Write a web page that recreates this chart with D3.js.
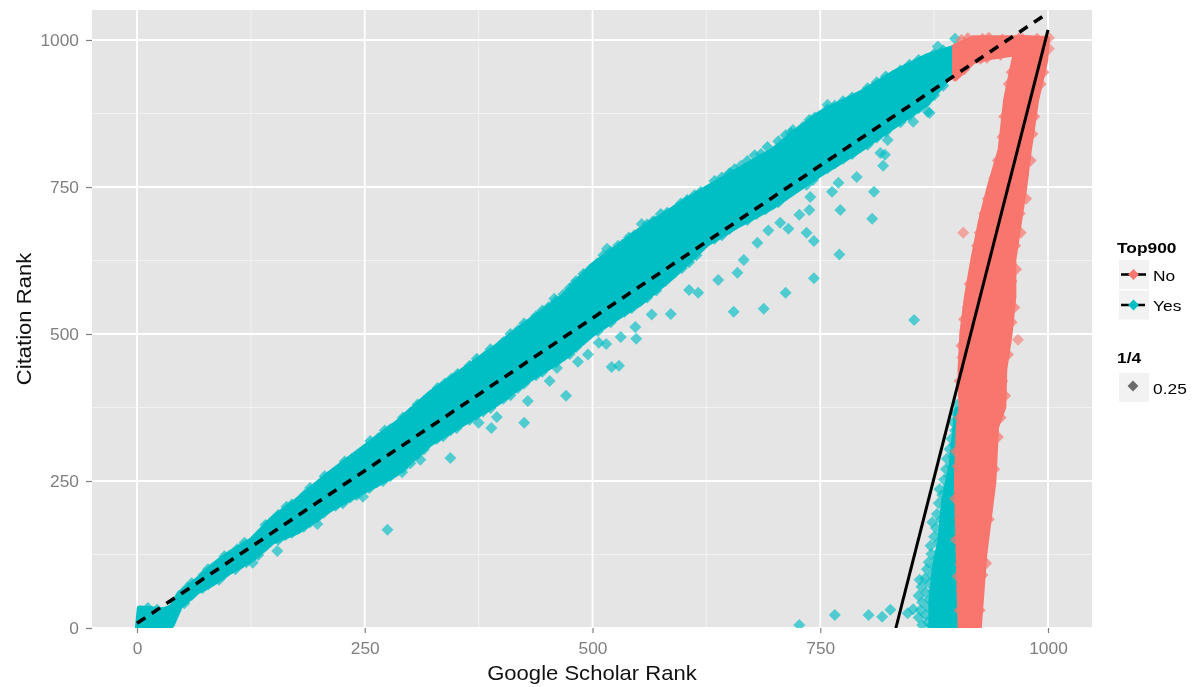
<!DOCTYPE html>
<html><head><meta charset="utf-8">
<script src="https://cdn.jsdelivr.net/npm/d3@7"></script>
<style>
html,body{margin:0;padding:0;background:#fff}
svg{display:block;filter:blur(0.6px)}
text{font-family:"Liberation Sans",Arial,sans-serif}
</style></head><body><svg id="c" width="1195" height="687"></svg>
<script>
// ---- axis ticks
const majorTicks = [0, 250, 500, 750, 1000];
const minorTicks = [125, 375, 625, 875];
const xTitle = "Google Scholar Rank", yTitle = "Citation Rank";

// ---- fit lines (rank endpoints)
const lineNoX = [833, 1000],  lineNoY = [0, 1017];
const lineYesX = [0, 1000],   lineYesY = [8, 1046];

// ---- teal cloud along the diagonal: solid extent at each Google rank
const bandX    = [1,  3, 29, 38, 47, 66, 83,102,126,149,176,212,248,285,322,358,395,431,468,499,527,552,590,626,662,698,724,750,794,830,867,896];
const bandHigh = [0, 33, 30, 35, 59, 81,105,127,149,186,217,263,305,348,399,438,479,522,564,615,647,676,714,748,780,812,845,875,909,943,972,986];
const bandLow  = [0,  0,  0,  5, 37, 62, 76, 96,117,147,164,202,232,263,314,348,382,423,459,499,528,552,601,654,687,717,745,772,814,853,892,947];

// ---- teal points on the upper and lower rims of that cloud
const rimUpper = [[12,34],[22,31],[55,68],[60,76],[73,90],[78,100],[90,110],[96,122],[110,134],[118,145],[134,158],[141,175],[155,192],[164,206],[170,210],[184,226],[190,238],[200,244],[206,258],[220,268],[228,283],[236,288],[256,318],[265,323],[272,336],[278,338],[292,358],[300,366],[308,380],[315,386],[330,408],[338,416],[345,424],[352,432],[365,446],[373,458],[382,462],[388,474],[402,486],[410,500],[418,506],[425,518],[438,530],[445,540],[452,546],[460,556],[475,578],[482,590],[490,602],[505,620],[512,634],[520,640],[533,652],[540,664],[546,668],[560,686],[568,692],[575,704],[582,706],[597,722],[604,728],[612,736],[619,742],[634,760],[642,766],[650,772],[656,780],[670,794],[678,804],[685,806],[692,818],[704,828],[712,838],[718,842],[731,852],[738,864],[744,868],[758,882],[766,888],[775,896],[785,902],[802,918],[812,928],[822,938],[838,948],[848,958],[858,966],[875,976],[885,982]];
const rimLower = [[36,10],[42,28],[52,42],[60,56],[72,68],[78,74],[90,82],[96,92],[108,100],[115,110],[120,112],[133,124],[140,138],[155,150],[163,158],[170,162],[183,172],[190,180],[198,188],[205,196],[218,208],[226,212],[234,222],[241,226],[255,238],[263,248],[270,250],[278,258],[292,272],[300,280],[308,296],[315,304],[329,322],[336,326],[344,336],[351,340],[365,354],[372,362],[380,368],[388,374],[402,390],[410,396],[418,408],[425,416],[438,430],[445,436],[452,448],[460,452],[475,466],[482,478],[490,490],[506,505],[513,518],[520,520],[535,538],[543,544],[560,562],[570,574],[580,590],[598,612],[606,622],[614,634],[634,662],[642,668],[650,678],[670,694],[680,704],[690,712],[704,724],[712,736],[735,754],[742,762],[758,782],[766,790],[775,798],[785,806],[802,822],[812,834],[822,844],[838,860],[848,872],[858,884],[875,906],[885,922]];

// ---- teal stragglers
const tealPoints = [[275,167],[344,289],[425,349],[471,395],[529,446],[521,444],[495,465],[484,453],[507,485],[515,483],[531,495],[548,492],[547,512],[565,533],[586,534],[606,575],[616,570],[638,592],[659,604],[666,626],[681,655],[693,676],[706,689],[715,679],[727,703],[738,711],[763,742],[770,757],[790,767],[819,786],[821,805],[816,808],[655,538],[688,543],[712,570],[743,595],[771,635],[743,658],[735,672],[772,711],[807,696],[809,742],[853,524],[458,560],[468,567],[480,584],[516,645],[528,650],[554,687],[566,691],[604,726],[651,774],[663,786],[898,1002],[879,989],[868,878],[852,861],[824,830],[727,5],[766,22],[803,22],[818,19],[827,31],[846,25],[852,32],[859,82],[429,386],[395,359],[375,349],[453,420],[461,442],[389,340],[154,131],[198,177],[248,223],[291,265],[311,286],[127,111],[739,733],[870,876],[758,890],[720,847]];

// ---- teal cluster at lower right: solid core at each citation rank, and single points
const clusterY    = [0,48,104,150,218,274,332,371];
const clusterLeft = [872,872,876,882,886,894,898,900];
const clusterRight= [902,902,902,902,902,902,902,902];
const clusterPoints = [[862,5],[868,10],[872,4],[858,18],[866,22],[874,16],[860,30],[869,35],[876,30],[862,44],[870,48],[858,55],[866,60],[874,62],[861,70],[870,76],[878,72],[865,84],[873,90],[867,100],[876,104],[869,112],[878,118],[872,126],[881,130],[871,140],[880,146],[875,155],[884,160],[877,170],[873,180],[883,184],[878,194],[887,200],[880,212],[890,214],[884,226],[881,236],[890,240],[886,252],[892,258],[888,270],[894,275],[889,288],[896,292],[892,304],[897,312],[894,322],[898,336],[896,350],[899,365],[901,380]];

// ---- red cloud: vertical arm (extent at each citation rank) and top arm (extent at each Google rank)
const redY     = [0,124,248,342,376,439,502,563,626,689,750,813,898,966,1002];
const redLeft  = [904,902,900,902,905,904,906,911,918,926,936,948,954,963,969];
const redRight = [924,930,940,943,951,952,958,962,962,968,974,979,987,997,999];
const topX     = [898,918,940,958,980,997];
const topHigh  = [989,1003,1003,1003,1003,1000];
const topLow   = [935,964,972,976,980,980];
const redPoints = [[907,672],[967,490],[1001,1004],[1001,985],[904,960],[902,945]];
const redRimLeft = [[903,30],[905,62],[901,88],[904,110],[899,150],[903,185],[898,220],[901,275],[899,300],[904,320],[903,358],[907,395],[903,420],[906,460],[905,480],[908,525],[912,545],[914,585],[920,610],[922,650],[925,672],[930,705],[934,730],[941,765],[945,795],[950,835],[952,870],[957,925],[960,945]];
const redRimRight = [[925,30],[922,60],[928,90],[932,110],[927,150],[935,185],[930,215],[941,270],[938,300],[945,325],[948,358],[953,395],[950,420],[956,465],[954,485],[960,520],[963,545],[960,590],[965,610],[964,650],[970,672],[969,705],[976,730],[973,770],[981,795],[983,840],[985,870],[992,925],[995,945]];
const redRimTop = [[905,1000],[912,1003],[928,1002],[935,1004],[950,1001],[968,1003],[972,1002],[988,1002],[908,950],[926,968],[933,970],[948,975],[966,978],[990,982]];

// ---- legend
const legendColour = ["No", "Yes"];
const legendAlpha = "0.25";

const TEAL = "#00BFC4", RED = "#F8766D";
const svg = d3.select("#c");
const x = d3.scaleLinear().domain([-49.4, 1048.3]).range([92, 1092]);
const y = d3.scaleLinear().domain([0, 1051]).range([628, 10]);
const widen = (sel, k) => sel.each(function () { this.setAttribute("textLength", this.getComputedTextLength() * k); this.setAttribute("lengthAdjust", "spacingAndGlyphs"); });

svg.append("defs").append("clipPath").attr("id", "panel").append("rect")
  .attr("x", 92).attr("y", 10).attr("width", 1000).attr("height", 618);

svg.append("rect").attr("x", 92).attr("y", 10).attr("width", 1000).attr("height", 618).attr("fill", "#E5E5E5");

// grid
const grid = svg.append("g");
minorTicks.forEach(t => {
  grid.append("line").attr("x1", x(t)).attr("x2", x(t)).attr("y1", 10).attr("y2", 628).attr("stroke", "#F2F2F2").attr("stroke-width", 1);
  grid.append("line").attr("y1", y(t)).attr("y2", y(t)).attr("x1", 92).attr("x2", 1092).attr("stroke", "#F2F2F2").attr("stroke-width", 1);
});
majorTicks.forEach(t => {
  grid.append("line").attr("x1", x(t)).attr("x2", x(t)).attr("y1", 10).attr("y2", 628).attr("stroke", "#fff").attr("stroke-width", 1.8);
  grid.append("line").attr("y1", y(t)).attr("y2", y(t)).attr("x1", 92).attr("x2", 1092).attr("stroke", "#fff").attr("stroke-width", 1.8);
});

// axes
function styleAxis(g) {
  g.select(".domain").remove();
  g.selectAll(".tick line").attr("stroke", "#7F7F7F").attr("stroke-width", 1.2);
  g.selectAll(".tick text").attr("fill", "#7F7F7F").style("font-size", "16.5px").call(widen, 1.05);
}
svg.append("g").attr("transform", "translate(0,628)")
  .call(d3.axisBottom(x).tickValues(majorTicks).tickSize(5).tickPadding(9).tickFormat(d3.format("d"))).call(styleAxis);
svg.append("g").attr("transform", "translate(92,0)")
  .call(d3.axisLeft(y).tickValues(majorTicks).tickSize(6).tickPadding(7).tickFormat(d3.format("d"))).call(styleAxis);

svg.append("text").attr("x", 592).attr("y", 680).attr("text-anchor", "middle").attr("fill", "#111").style("font-size", "21px").text(xTitle).call(widen, 1.05);
svg.append("text").attr("transform", "translate(31,319) rotate(-90)").attr("text-anchor", "middle").attr("fill", "#111").style("font-size", "21px").text(yTitle).call(widen, 1.05);

// marks
const plot = svg.append("g").attr("clip-path", "url(#panel)");
const diamond = d3.symbol().type(d3.symbolSquare).size(72);
function dots(pts, col, op) {
  plot.append("g").selectAll("path").data(pts).join("path")
    .attr("d", diamond)
    .attr("transform", d => `translate(${x(d[0])},${y(d[1])}) rotate(45)`)
    .attr("fill", col).attr("fill-opacity", op);
}
function blob(d, col) {
  plot.append("path").attr("d", d).attr("fill", col).attr("stroke", col).attr("stroke-width", 6).attr("stroke-linejoin", "round");
}
const zip2 = (a, b) => a.map((v, i) => [v, b[i]]);

// teal diagonal
blob(d3.area().x((d, i) => x(bandX[i])).y0((d, i) => y(bandLow[i])).y1((d, i) => y(bandHigh[i]))(bandX), TEAL);
dots(rimUpper, TEAL, 0.7);
dots(rimLower, TEAL, 0.7);
dots(tealPoints, TEAL, 0.65);

// teal lower right
blob(d3.area().y((d, i) => y(clusterY[i])).x0((d, i) => x(clusterLeft[i])).x1((d, i) => x(clusterRight[i]))(clusterY), TEAL);
dots(clusterPoints, TEAL, 0.65);

// red arms
blob(d3.area().y((d, i) => y(redY[i])).x0((d, i) => x(redLeft[i])).x1((d, i) => x(redRight[i]))(redY), RED);
blob(d3.area().x((d, i) => x(topX[i])).y0((d, i) => y(topLow[i])).y1((d, i) => y(topHigh[i]))(topX), RED);
dots(redRimLeft, RED, 0.7);
dots(redRimRight, RED, 0.7);
dots(redRimTop, RED, 0.7);
dots(redPoints, RED, 0.6);

// fit lines
plot.append("path").attr("fill", "none").attr("stroke", "#000").attr("stroke-width", 3)
  .attr("d", d3.line().x((d, i) => x(lineNoX[i])).y((d, i) => y(lineNoY[i]))(lineNoX));
svg.append("path").attr("fill", "none").attr("stroke", "#000").attr("stroke-width", 3.6)
  .attr("stroke-dasharray", "10,7.7")
  .attr("d", d3.line().x((d, i) => x(lineYesX[i])).y((d, i) => y(lineYesY[i]))(lineYesX));

// legend
const leg = svg.append("g");
leg.append("text").attr("x", 1117).attr("y", 253).attr("font-weight", "bold").attr("fill", "#000").style("font-size", "15.5px").text("Top900").call(widen, 1.12);
legendColour.forEach((label, i) => {
  const top = 260 + i * 30.5, cy = top + 14.5;
  leg.append("rect").attr("x", 1119).attr("y", top).attr("width", 30).attr("height", 29).attr("fill", "#F2F2F2");
  leg.append("line").attr("x1", 1121).attr("x2", 1146).attr("y1", cy).attr("y2", cy).attr("stroke", "#000").attr("stroke-width", 2.6)
    .attr("stroke-dasharray", i ? "8,8" : null);
  leg.append("path").attr("d", d3.symbol().type(d3.symbolSquare).size(58)).attr("transform", `translate(1133.5,${cy}) rotate(45)`)
    .attr("fill", i ? TEAL : RED);
  leg.append("text").attr("x", 1153).attr("y", cy + 6).attr("fill", "#000").style("font-size", "15.5px").text(label).call(widen, 1.12);
});
leg.append("text").attr("x", 1117).attr("y", 363).attr("font-weight", "bold").attr("fill", "#000").style("font-size", "15.5px").text("1/4").call(widen, 1.12);
leg.append("rect").attr("x", 1119).attr("y", 373).attr("width", 30).attr("height", 29).attr("fill", "#F2F2F2");
leg.append("path").attr("d", d3.symbol().type(d3.symbolSquare).size(58)).attr("transform", "translate(1133,386) rotate(45)").attr("fill", "#6b6b6b");
leg.append("text").attr("x", 1153).attr("y", 394).attr("fill", "#000").style("font-size", "15.5px").text(legendAlpha).call(widen, 1.12);
</script></body></html>
